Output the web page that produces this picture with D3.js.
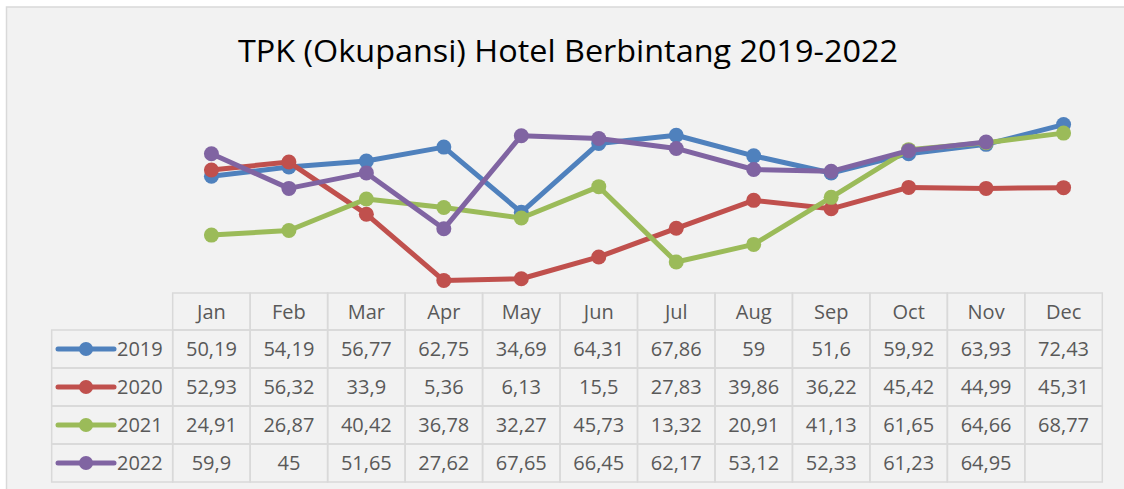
<!DOCTYPE html>
<html>
<head>
<meta charset="utf-8">
<script src="https://cdn.jsdelivr.net/npm/d3@7"></script>
<style>
  body { margin: 0; background: #ffffff; }
  svg { display: block; }
</style>
</head>
<body>
<div id="chart"></div>
<script>
// data
let months = ["Jan", "Feb", "Mar", "Apr", "May", "Jun", "Jul", "Aug", "Sep", "Oct", "Nov", "Dec"];
let years = ["2019", "2020", "2021", "2022"];
let tpk2019 = [50.19, 54.19, 56.77, 62.75, 34.69, 64.31, 67.86, 59, 51.6, 59.92, 63.93, 72.43];
let tpk2020 = [52.93, 56.32, 33.9, 5.36, 6.13, 15.5, 27.83, 39.86, 36.22, 45.42, 44.99, 45.31];
let tpk2021 = [24.91, 26.87, 40.42, 36.78, 32.27, 45.73, 13.32, 20.91, 41.13, 61.65, 64.66, 68.77];
let tpk2022 = [59.9, 45, 51.65, 27.62, 67.65, 66.45, 62.17, 53.12, 52.33, 61.23, 64.95, null];
let yTicks = [0, 80];

let colors = ["#4f81bd", "#c0504d", "#9bbb59", "#8064a2"];

let series = years.map((y, i) => ({
    name: y,
    color: colors[i],
    values: [tpk2019, tpk2020, tpk2021, tpk2022][i]
}));

let plotWidth = 1124;
let plotHeight = 489;

let svg = d3.select("#chart")
    .append("svg")
    .attr("width", plotWidth)
    .attr("height", plotHeight);

// chart area
svg.append("rect")
    .attr("x", 6.5)
    .attr("y", 7)
    .attr("width", 1130)
    .attr("height", 500)
    .attr("fill", "#f2f2f2")
    .attr("stroke", "#d9d9d9")
    .attr("stroke-width", 1.5);

// title
svg.append("text")
    .attr("x", 568)
    .attr("y", 62)
    .attr("text-anchor", "middle")
    .attr("font-family", "'Open Sans', sans-serif")
    .attr("font-size", "31px")
    .attr("fill", "#000000")
    .attr("textLength", 660)
    .attr("lengthAdjust", "spacingAndGlyphs")
    .text("TPK (Okupansi) Hotel Berbintang 2019-2022");

// scales
let xScale = d3.scaleBand()
    .domain(months)
    .range([172.7, 1102.3]);

let yScale = d3.scaleLinear()
    .domain(d3.extent(yTicks))
    .range([293, 107]);

let bw = xScale.bandwidth();
let cx = m => xScale(m) + bw / 2;

// lines
let line = d3.line()
    .defined(d => d.v != null)
    .x(d => cx(d.m))
    .y(d => yScale(d.v));

series.forEach(function(s) {
    let pts = months.map((m, i) => ({ m: m, v: s.values[i] }));
    let g = svg.append("g");
    g.append("path")
        .datum(pts)
        .attr("d", line)
        .attr("fill", "none")
        .attr("stroke", s.color)
        .attr("stroke-width", 5)
        .attr("stroke-linejoin", "round");
    g.selectAll("circle")
        .data(pts.filter(d => d.v != null))
        .enter()
        .append("circle")
        .attr("cx", d => cx(d.m))
        .attr("cy", d => yScale(d.v))
        .attr("r", 7.5)
        .attr("fill", s.color);
});

// data table
let rowTop = 293;
let headH = 37;
let rowH = 38;
let legLeft = 51.7;
let gridColor = "#d9d9d9";
let textColor = "#595959";
let fontSize = "20px";
let fmt = v => v == null ? "" : String(v).replace(".", ",");

let table = svg.append("g");

// header cells
months.forEach(function(m) {
    table.append("rect")
        .attr("x", xScale(m))
        .attr("y", rowTop)
        .attr("width", bw)
        .attr("height", headH)
        .attr("fill", "none")
        .attr("stroke", gridColor)
        .attr("stroke-width", 1.5);
    table.append("text")
        .attr("x", cx(m))
        .attr("y", rowTop + headH / 2 + 7.5)
        .attr("text-anchor", "middle")
        .attr("font-family", "'Open Sans', sans-serif")
        .attr("font-size", fontSize)
        .attr("fill", textColor)
        .text(m);
});

// body rows
series.forEach(function(s, i) {
    let y0 = rowTop + headH + i * rowH;
    table.append("rect")
        .attr("x", legLeft)
        .attr("y", y0)
        .attr("width", xScale.range()[0] - legLeft)
        .attr("height", rowH)
        .attr("fill", "none")
        .attr("stroke", gridColor)
        .attr("stroke-width", 1.5);
    // legend key
    table.append("line")
        .attr("x1", 58)
        .attr("x2", 114)
        .attr("y1", y0 + rowH / 2)
        .attr("y2", y0 + rowH / 2)
        .attr("stroke", s.color)
        .attr("stroke-width", 5)
        .attr("stroke-linecap", "round");
    table.append("circle")
        .attr("cx", 86)
        .attr("cy", y0 + rowH / 2)
        .attr("r", 7)
        .attr("fill", s.color);
    table.append("text")
        .attr("x", 117)
        .attr("y", y0 + rowH / 2 + 7)
        .attr("font-family", "'Open Sans', sans-serif")
        .attr("font-size", fontSize)
        .attr("fill", textColor)
        .text(s.name);

    months.forEach(function(m, j) {
        table.append("rect")
            .attr("x", xScale(m))
            .attr("y", y0)
            .attr("width", bw)
            .attr("height", rowH)
            .attr("fill", "none")
            .attr("stroke", gridColor)
            .attr("stroke-width", 1.5);
        table.append("text")
            .attr("x", cx(m))
            .attr("y", y0 + rowH / 2 + 7)
            .attr("text-anchor", "middle")
            .attr("font-family", "'Open Sans', sans-serif")
            .attr("font-size", fontSize)
            .attr("fill", textColor)
            .text(fmt(s.values[j]));
    });
});
</script>
</body>
</html>
